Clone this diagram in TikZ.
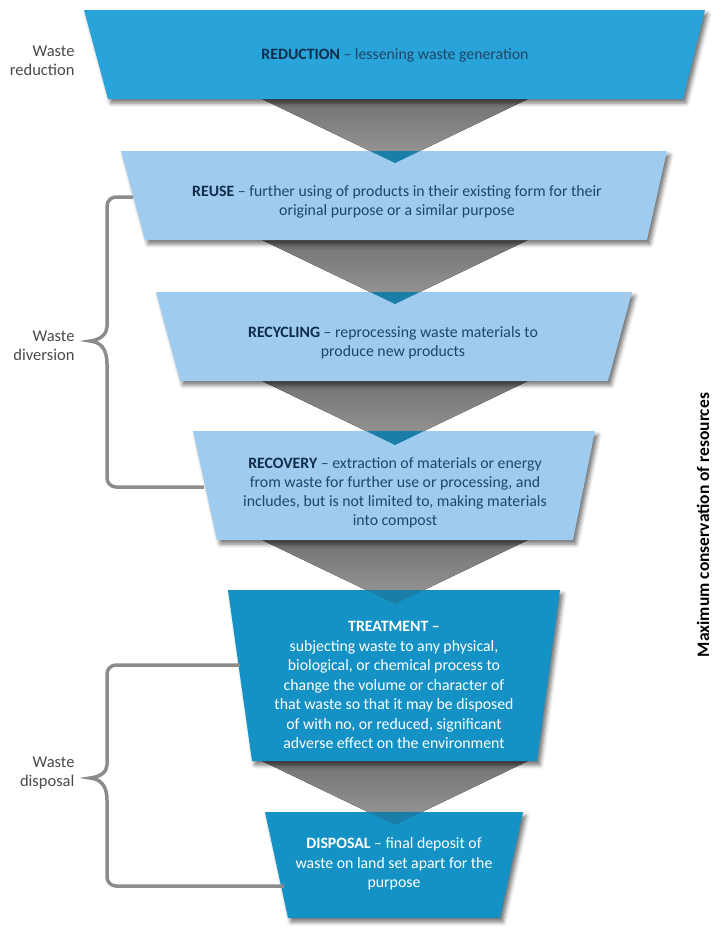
\documentclass[tikz,border=0pt]{standalone}
\usepackage{fontspec}
\setmainfont{Carlito}
\usetikzlibrary{shadows.blur}
\definecolor{bA}{HTML}{29A4DA}
\definecolor{bB}{HTML}{9FCCEE}
\definecolor{bC}{HTML}{1592C5}
\definecolor{tipc}{HTML}{1A7EA8}
\definecolor{txt}{HTML}{1D4766}
\definecolor{txtb}{HTML}{0F2C48}
\definecolor{lbl}{HTML}{4A4A4A}
\definecolor{brk}{HTML}{8C8C8C}
\begin{document}
\begin{tikzpicture}[x=1pt,y=-1pt,
  blk/.style={blur shadow={shadow xshift=3pt,shadow yshift=-4pt,shadow blur radius=4pt,shadow opacity=55}},
  funnel/.style={top color=black!55,bottom color=black!40},
  tipfill/.style={fill=tipc},
  body/.style={font=\fontsize{15.8}{19}\selectfont, align=center, text=txt},
  bodyw/.style={font=\fontsize{15.8}{19.5}\selectfont, align=center, text=white},
  side/.style={font=\fontsize{16.5}{19}\selectfont, align=right, text=lbl, anchor=east},
  brace/.style={draw=brk, line width=3.5pt}]
\useasboundingbox (0,0) rectangle (715,927);
% funnels
\fill[funnel] (262,99) -- (528,99) -- (395,163) -- cycle;
\fill[funnel] (262,240) -- (528,240) -- (395,304) -- cycle;
\fill[funnel] (262,381) -- (528,381) -- (395,445) -- cycle;
\fill[funnel] (262,540) -- (528,540) -- (395,604) -- cycle;
\fill[funnel] (262,761) -- (528,761) -- (395,825) -- cycle;
% blocks
\fill[bA,blk] (84,10) -- (705,10) -- (683,99) -- (108,99) -- cycle;
\fill[bB,blk] (121,151) -- (667,151) -- (647,240) -- (145,240) -- cycle;
\fill[bB,blk] (156,292) -- (632,292) -- (608,381) -- (180,381) -- cycle;
\fill[bB,blk] (193,431) -- (595,431) -- (573,540) -- (217,540) -- cycle;
\fill[bC,blk] (228,590) -- (560,590) -- (537,761) -- (252,761) -- cycle;
\fill[bC,blk] (265,812) -- (523,812) -- (500,918) -- (288,918) -- cycle;
% tips
\fill[tipfill] (370,151) -- (420,151) -- (395,163) -- cycle;
\fill[tipfill] (370,292) -- (420,292) -- (395,304) -- cycle;
\fill[tipfill] (366,431) -- (424,431) -- (395,445) -- cycle;
\fill[tipfill] (366,590) -- (424,590) -- (395,604) -- cycle;
\fill[tipfill] (368,812) -- (422,812) -- (395,825) -- cycle;
% texts
\node[body] (t1) at (395,55) {\textbf{\color{txtb}REDUCTION} – lessening waste generation};
\node[body] (t2) at (397,202) {\textbf{\color{txtb}REUSE} – further using of products in their existing form for their\\original purpose or a similar purpose};
\node[body] (t3) at (393,343) {\textbf{\color{txtb}RECYCLING} – reprocessing waste materials to\\produce new products};
\node[body] (t4) at (395,493) {\textbf{\color{txtb}RECOVERY} – extraction of materials or energy\\from waste for further use or processing, and\\includes, but is not limited to, making materials\\into compost};
\node[bodyw] (t5) at (394,685) {\textbf{TREATMENT –}\\subjecting waste to any physical,\\biological, or chemical process to\\change the volume or character of\\that waste so that it may be disposed\\of with no, or reduced, significant\\adverse effect on the environment};
\node[bodyw] (t6) at (394,864) {\textbf{DISPOSAL} – final deposit of\\waste on land set apart for the\\purpose};
% side labels
\node[side] (lred) at (78,61) {Waste\\reduction};
\node[side] (ldiv) at (78,346) {Waste\\diversion};
\node[side] (ldis) at (78,773) {Waste\\disposal};
\node[rotate=90, inner sep=1pt, font=\bfseries\fontsize{17.5}{19}\selectfont] (vt) at (703,525) {Maximum conservation of resources};
% brackets
\coordinate (d1) at (133,197);
\coordinate (d2) at (204,487);
\coordinate (s1) at (240,665);
\coordinate (s2) at (284,886);
\draw[brace] (d1) [rounded corners=9pt] -- (107,197) -- (107,318) [sharp corners] .. controls (107,334) and (100,340) .. (90,341) .. controls (100,342) and (107,348) .. (107,364) [rounded corners=9pt] -- (107,487) -- (d2);
\draw[brace] (s1) [rounded corners=9pt] -- (107,665) -- (107,756) [sharp corners] .. controls (107,772) and (100,777) .. (90,778) .. controls (100,779) and (107,785) .. (107,800) [rounded corners=9pt] -- (107,886) -- (s2);
\end{tikzpicture}
\end{document}
